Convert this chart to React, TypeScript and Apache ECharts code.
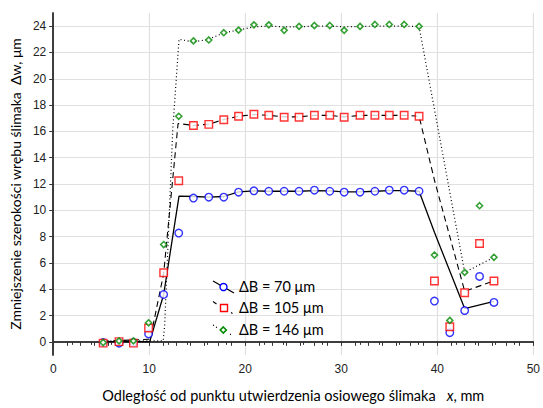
import React, { useEffect, useRef } from "react";
import * as echarts from "echarts";

// Measurement positions along the worm, mm
const xMm = [5.2, 6.85, 8.35, 9.93, 11.5, 13.07, 14.6, 16.2, 17.76, 19.3, 20.9, 22.45, 24.05, 25.6, 27.2, 28.8, 30.3, 31.95, 33.5, 35.0, 36.55, 38.1, 39.7, 41.3, 42.85, 44.4, 45.9];

// Measured points, Δw in μm
const dw70 = [-0.05, -0.1, -0.05, 0.6, 3.6, 8.27, 10.93, 11.0, 11.0, 11.38, 11.48, 11.45, 11.45, 11.45, 11.53, 11.45, 11.38, 11.38, 11.45, 11.53, 11.53, 11.45, 3.1, 0.7, 2.38, 4.97, 3.0];
const dw105 = [-0.1, 0.02, -0.1, 1.05, 5.25, 12.25, 16.45, 16.53, 16.88, 17.15, 17.3, 17.23, 17.08, 17.08, 17.23, 17.23, 17.08, 17.23, 17.23, 17.23, 17.23, 17.15, 4.63, 1.15, 3.73, 7.48, 4.63];
const dw146 = [-0.05, 0.07, 0.07, 1.45, 7.4, 17.15, 22.88, 22.95, 23.5, 23.7, 24.1, 24.1, 23.68, 23.98, 24.05, 24.05, 23.68, 23.98, 24.13, 24.13, 24.13, 23.98, 6.6, 1.63, 5.28, 10.35, 6.43];

// Curves (model lines)
const line70X = [5.2, 10.05, 11.5, 13.1, 14.6, 16.2, 17.76, 19.3, 20.9, 22.45, 24.05, 25.6, 27.2, 28.8, 30.3, 31.95, 33.5, 35.0, 36.55, 38.1, 39.7, 42.85, 45.9];
const line70Y = [0.02, 0.02, 3.6, 11.08, 11.05, 11.0, 11.05, 11.4, 11.47, 11.45, 11.45, 11.45, 11.5, 11.47, 11.4, 11.4, 11.45, 11.5, 11.5, 11.45, 8.33, 2.53, 3.08];
const line105X = [5.2, 10.1, 11.5, 13.0, 14.6, 16.2, 17.76, 19.3, 20.9, 22.45, 24.05, 25.6, 27.2, 28.8, 30.3, 31.95, 33.5, 35.0, 36.55, 38.1, 39.7, 42.85, 45.9];
const line105Y = [0.05, 0.2, 5.2, 16.6, 16.45, 16.55, 16.9, 17.15, 17.28, 17.22, 17.1, 17.1, 17.22, 17.22, 17.1, 17.22, 17.22, 17.22, 17.22, 17.15, 12.3, 3.85, 4.63];
const line146X = [5.2, 11.45, 11.6, 12.45, 13.1, 14.6, 16.2, 17.76, 19.3, 20.9, 22.45, 24.05, 25.6, 27.2, 28.8, 30.3, 31.95, 33.5, 35.0, 36.55, 38.1, 42.85, 45.9];
const line146Y = [0.07, 0.07, 1.2, 16.2, 23.0, 22.8, 23.0, 23.5, 23.7, 23.95, 24.0, 23.95, 23.95, 24.0, 24.0, 23.95, 23.98, 24.0, 24.0, 24.0, 23.98, 5.28, 6.43];

const yTicks = [0, 2, 4, 6, 8, 10, 12, 14, 16, 18, 20, 22, 24];
const legendLabels = ["ΔB = 70 μm", "ΔB = 105 μm", "ΔB = 146 μm"];

const xName = "Odległość od punktu utwierdzenia osiowego ślimaka   {i|x}, mm";
const yName = "Zmniejszenie szerokości wrębu ślimaka  Δw, μm";

const zip = (xs: number[], ys: number[]) => xs.map((x, i) => [x, ys[i]]);

const BLUE = "#0000ff";
const RED = "#ff0000";
const GREEN = "#008a00";
const FRAME = "#333";
const TXT = "Lato";

export default function App() {
  const ref = useRef<HTMLDivElement>(null);
  useEffect(() => {
    if (!ref.current) return;
    const chart = echarts.init(ref.current, undefined, { renderer: "svg" });
    const axisLine = { show: true, lineStyle: { color: FRAME, width: 1.5 } };
    const option: any = {
      animation: false,
      backgroundColor: "#fff",
      grid: { left: 52, right: 6, top: 13, bottom: 48 },
      xAxis: [
        {
          type: "value", min: 0, max: 50, interval: 10, position: "bottom",
          axisLine,
          axisTick: { show: true, length: 3, lineStyle: { color: FRAME } },
          minorTick: { show: true, splitNumber: 5, length: 3, lineStyle: { color: FRAME } },
          axisLabel: { fontFamily: "Liberation Sans", fontSize: 12, color: "#222", margin: 8 },
          splitLine: { show: true, lineStyle: { color: "#e0e0e0", width: 1.2 } },
          name: xName, nameLocation: "middle", nameGap: 33,
          nameTextStyle: {
            fontFamily: TXT, fontSize: 14.5, color: "#000",
            rich: { i: { fontFamily: TXT, fontSize: 14.5, fontStyle: "italic", color: "#000" } },
          },
        },
        {
          type: "value", min: 0, max: 50, interval: 10, position: "top",
          axisLine,
          axisTick: { show: true, inside: true, length: 4, lineStyle: { color: FRAME } },
          minorTick: { show: true, splitNumber: 7, length: 4, lineStyle: { color: FRAME } },
          axisLabel: { show: false },
          splitLine: { show: false },
        },
      ],
      yAxis: [
        {
          type: "value", min: -1, max: 25, position: "left",
          axisLine,
          axisTick: { show: true, length: 3, customValues: yTicks, lineStyle: { color: FRAME } },
          axisLabel: { customValues: yTicks, fontFamily: "Liberation Sans", fontSize: 12, color: "#222", margin: 7 },
          splitLine: { show: true, lineStyle: { color: "#e0e0e0", width: 1.2 } },
          name: yName, nameLocation: "middle", nameGap: 28, nameRotate: 90,
          nameTextStyle: { fontFamily: TXT, fontSize: 14, color: "#000" },
        },
        {
          type: "value", min: -1, max: 25, position: "right",
          axisLine,
          axisTick: { show: true, inside: true, length: 4, customValues: yTicks, lineStyle: { color: FRAME } },
          axisLabel: { show: false, customValues: yTicks },
          splitLine: { show: false },
        },
      ],
      series: [
        { type: "line", data: zip(line70X, line70Y), showSymbol: false, symbol: "none", lineStyle: { color: "#000", width: 1.3 }, z: 2 },
        { type: "line", data: zip(line105X, line105Y), showSymbol: false, symbol: "none", lineStyle: { color: "#000", width: 1.1, type: [6, 4] }, z: 2 },
        { type: "line", data: zip(line146X, line146Y), showSymbol: false, symbol: "none", lineStyle: { color: "#000", width: 1.2, type: [1, 2.6] }, z: 2 },
        { type: "scatter", data: zip(xMm, dw70), symbol: "circle", symbolSize: 7.5, itemStyle: { color: "#fff", borderColor: BLUE, borderWidth: 1.4 }, z: 3 },
        { type: "scatter", data: zip(xMm, dw105), symbol: "rect", symbolSize: 7.5, itemStyle: { color: "#fff", borderColor: RED, borderWidth: 1.4 }, z: 3 },
        { type: "scatter", data: zip(xMm, dw146), symbol: "diamond", symbolSize: 6, itemStyle: { color: "#fff", borderColor: GREEN, borderWidth: 1.6 }, z: 4 },
      ],
      graphic: [
        // legend row 1
        { type: "line", shape: { x1: 213, y1: 281, x2: 234, y2: 293 }, style: { stroke: "#000", lineWidth: 1.2 }, z: 10 },
        { type: "circle", shape: { cx: 223.5, cy: 287, r: 3.5 }, style: { fill: "#fff", stroke: BLUE, lineWidth: 1.4 }, z: 11 },
        { type: "text", x: 239, y: 286, style: { text: legendLabels[0], fontFamily: TXT, fontSize: 14.5, fill: "#000", verticalAlign: "middle" }, z: 11 },
        // legend row 2
        { type: "line", shape: { x1: 213, y1: 301.5, x2: 216.5, y2: 304 }, style: { stroke: "#000", lineWidth: 1.1 }, z: 10 },
        { type: "line", shape: { x1: 231, y1: 312.5, x2: 232.5, y2: 313.5 }, style: { stroke: "#000", lineWidth: 1.1 }, z: 10 },
        { type: "rect", shape: { x: 220.5, y: 304.5, width: 7, height: 7 }, style: { fill: "#fff", stroke: RED, lineWidth: 1.4 }, z: 11 },
        { type: "text", x: 239, y: 307.5, style: { text: legendLabels[1], fontFamily: TXT, fontSize: 14.5, fill: "#000", verticalAlign: "middle" }, z: 11 },
        // legend row 3
        { type: "circle", shape: { cx: 213.5, cy: 325.2, r: 0.6 }, style: { fill: "#000" }, z: 10 },
        { type: "circle", shape: { cx: 216.5, cy: 327.2, r: 0.6 }, style: { fill: "#000" }, z: 10 },
        { type: "circle", shape: { cx: 230.5, cy: 334.2, r: 0.6 }, style: { fill: "#000" }, z: 10 },
        { type: "polygon", shape: { points: [[223.3, 327], [226.3, 330], [223.3, 333], [220.3, 330]] }, style: { fill: "#fff", stroke: GREEN, lineWidth: 1.6 }, z: 11 },
        { type: "text", x: 239, y: 329.5, style: { text: legendLabels[2], fontFamily: TXT, fontSize: 14.5, fill: "#000", verticalAlign: "middle" }, z: 11 },
      ],
    };
    chart.setOption(option);
    return () => chart.dispose();
  }, []);
  return <div ref={ref} style={{ position: "absolute", left: 0, top: 0, width: 543, height: 408 }} />;
}
